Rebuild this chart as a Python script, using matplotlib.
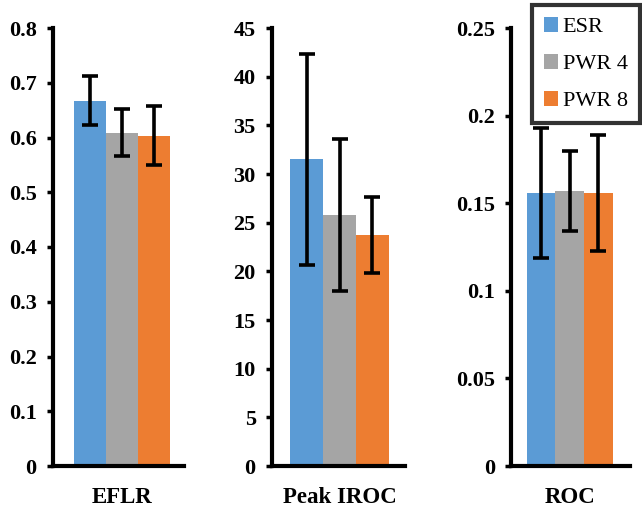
import numpy as np
import matplotlib
matplotlib.use("Agg")
import matplotlib.pyplot as plt
from matplotlib.patches import Patch
from matplotlib.ticker import FuncFormatter

plt.rcParams["font.family"] = ["Liberation Serif", "DejaVu Serif"]

#####################################################
# data
#####################################################

groups = ["ESR", "PWR 4", "PWR 8"]
colors = ["#5B9BD5", "#A5A5A5", "#ED7D31"]

metrics = ["EFLR", "Peak IROC", "ROC"]

eflr_mean = [0.667, 0.609, 0.603]
eflr_err = [0.045, 0.043, 0.054]

iroc_mean = [31.5, 25.8, 23.7]
iroc_err = [10.8, 7.8, 3.9]

roc_mean = [0.156, 0.157, 0.156]
roc_err = [0.037, 0.023, 0.033]

y_max = [0.8, 45, 0.25]
y_step = [0.1, 5, 0.05]

#####################################################
# figure
#####################################################

fig = plt.figure(figsize=(6.42, 5.07), dpi=100)
W, H = 642, 507

# axes pixel boxes (left, right) and x-limits
ax_px = [(52.7, 184.0), (271.7, 405.0), (511.0, 630.0)]
xlims = [(-1.166, 2.94), (-1.055, 2.985), (-1.047, 3.10)]
top_px, bot_px = 28, 466

means = [eflr_mean, iroc_mean, roc_mean]
errs = [eflr_err, iroc_err, roc_err]


def fmt(v, pos):
    return "%g" % round(v, 4)


for i, metric in enumerate(metrics):
    l, r = ax_px[i]
    ax = fig.add_axes([l / W, (H - bot_px) / H, (r - l) / W, (bot_px - top_px) / H])
    x = np.arange(len(groups))
    ax.bar(x, means[i], width=1.0, color=colors, edgecolor="none", zorder=1)
    ax.errorbar(
        x, means[i], yerr=errs[i], fmt="none", ecolor="black",
        elinewidth=2.6, capsize=5.5, capthick=2.6, zorder=3,
    )
    ax.set_xlim(*xlims[i])
    ax.set_ylim(0, y_max[i])
    ax.set_yticks(np.arange(0, y_max[i] + y_step[i] / 2, y_step[i]))
    ax.yaxis.set_major_formatter(FuncFormatter(fmt))
    ax.set_xticks([1])
    ax.set_xticklabels([metric])

    for side in ["top", "right"]:
        ax.spines[side].set_visible(False)
    for side in ["left", "bottom"]:
        ax.spines[side].set_linewidth(3)

    ax.tick_params(axis="y", direction="out", length=4.5, width=2.5, pad=7,
                   labelsize=16)
    ax.tick_params(axis="x", length=0, pad=15, labelsize=16.5)
    for lab in ax.get_yticklabels() + ax.get_xticklabels():
        lab.set_fontweight("bold")

handles = [Patch(facecolor=c, edgecolor="none") for c in colors]
leg = fig.legend(
    handles, groups,
    loc="upper right",
    bbox_to_anchor=(640 / W, 1 - 5 / H),
    borderaxespad=0,
    frameon=True,
    fancybox=False,
    fontsize=16,
    handlelength=0.65,
    handleheight=0.65,
    handletextpad=0.2,
    labelspacing=0.75,
    borderpad=0.55,
)
leg.get_frame().set_edgecolor("black")
leg.get_frame().set_linewidth(3)

plt.savefig("out.png", dpi=100)
plt.close()
